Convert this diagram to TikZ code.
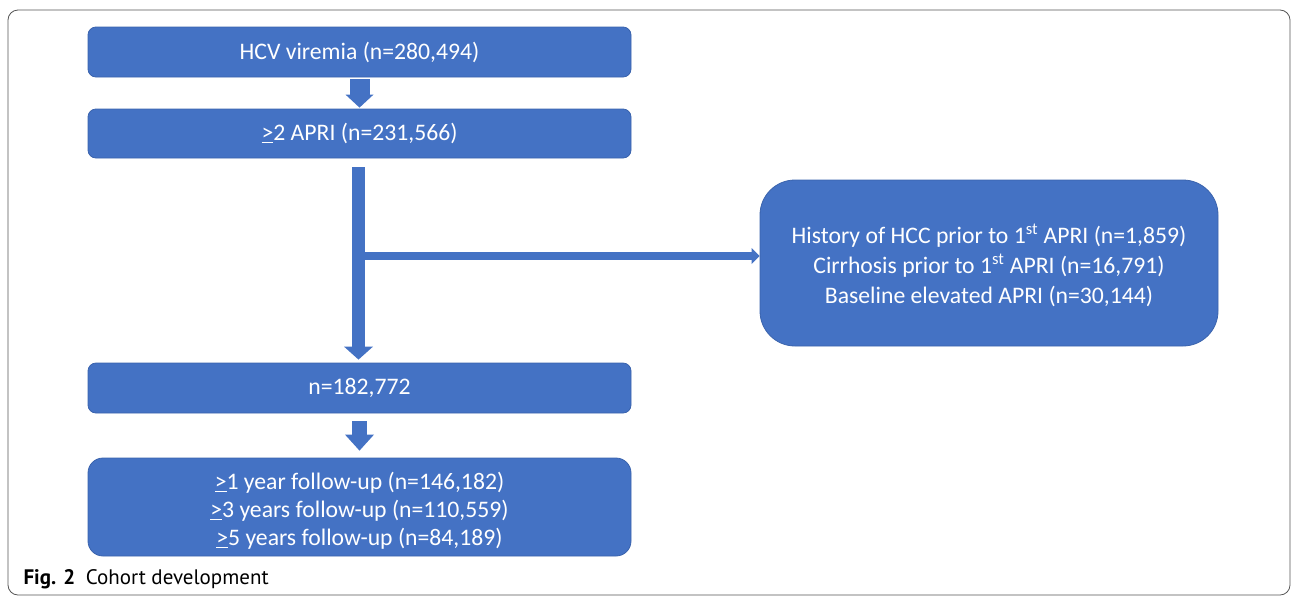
\documentclass[tikz,border=0pt]{standalone}
\usepackage{fontspec}
\setmainfont{Carlito}
\newfontfamily\capfont{PT Sans}
\usetikzlibrary{arrows.meta,calc}
\definecolor{boxblue}{HTML}{4472C4}
\definecolor{edgeblue}{HTML}{3A63AD}
\definecolor{framegray}{HTML}{555555}
\newcommand{\ulgt}{\underline{>}}
\begin{document}
\begin{tikzpicture}[x=1pt,y=-1pt,
  box/.style={draw=edgeblue, line width=0.8pt, fill=boxblue, text=white,
    rounded corners=8pt, font=\fontsize{23.7}{28}\selectfont, align=center,
    inner sep=0pt, minimum width=543pt},
  blk/.style n args={3}{draw=boxblue, line width=#1pt,
    -{Triangle[width=#2pt,length=#3pt,line width=0pt]}},
  framestyle/.style={draw=framegray, line width=0.8pt, rounded corners=10pt}
]
\useasboundingbox (0,0) rectangle (1296,598);
\draw[framestyle] (8,10) rectangle (1290,595);

\node[box, minimum height=50pt] (b1) at (359.5,52) {HCV viremia (n=280,494)};
\node[box, minimum height=49pt] (b2) at (359.5,133.5) {\ulgt2 APRI (n=231,566)};
\node[box, minimum height=50pt] (b3) at (359.5,388) {n=182,772};
\node[box, minimum height=98pt, rounded corners=15pt] (b4) at (359.5,507)
  {\rule{0pt}{25pt}\ulgt1 year follow-up (n=146,182)\\ \ulgt3 years follow-up (n=110,559)\\ \ulgt5 years follow-up (n=84,189)};
\node[box, minimum width=458pt, minimum height=166pt, rounded corners=35pt,
  font=\fontsize{23.7}{30}\selectfont] (rb) at (989,263)
  {\rule{0pt}{25pt}History of HCC prior to 1\textsuperscript{st} APRI (n=1,859)\\
   Cirrhosis prior to 1\textsuperscript{st} APRI (n=16,791)\\
   Baseline elevated APRI (n=30,144)};

\draw[blk={20}{28}{13}] ($(b1.south)+(0,2)$) -- ($(b2.north)+(0,-1)$);
\draw[blk={13}{29}{13}] ($(b2.south)+(-1,9)$) -- ($(b3.north)+(-1,-3)$);
\draw[blk={15}{29}{16}] ($(b3.south)+(0,8)$) -- ($(b4.north)+(0,-7)$);
\coordinate (j) at (365,256);
\draw[blk={8}{16}{8}] (j) -- (rb.west |- j);

\node[anchor=base west, font=\capfont\fontsize{21}{24}\selectfont, text=black] (cap) at (20,584)
  {\textbf{Fig. 2}\hspace{0.5em}Cohort development};
\end{tikzpicture}
\end{document}
